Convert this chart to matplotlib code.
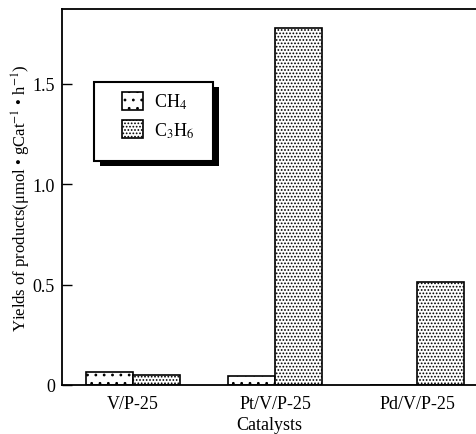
import numpy as np
import matplotlib
matplotlib.use('Agg')
from matplotlib import pyplot as plt
from matplotlib import patheffects as pe
from matplotlib.patches import Rectangle

catalysts = ['V/P-25', 'Pt/V/P-25', 'Pd/V/P-25']
ch4 = [0.063, 0.043, 0.0]
c3h6 = [0.05, 1.78, 0.515]

plt.rcParams['font.family'] = ['Liberation Serif', 'DejaVu Serif']
plt.rcParams['mathtext.fontset'] = 'stix'
plt.rcParams['hatch.linewidth'] = 0.8

fig = plt.figure(figsize=(4.77, 4.35), dpi=100)
ax = fig.add_axes([62/477, 1-386/435, 1-62/477, 376/435])

x = np.arange(len(catalysts))
w = 0.33
ax.bar(x - w/2, ch4, w, color='white', edgecolor='black', hatch='..', linewidth=1.2, label='CH$_4$')
ax.bar(x + w/2, c3h6, w, color='white', edgecolor='black', hatch='.....', linewidth=1.2, label='C$_3$H$_6$')

ax.set_xlim(-0.5, 2.42)
ax.set_ylim(0, 1.873)
ax.set_xticks(x)
ax.set_xticklabels(catalysts, fontsize=13)
ax.set_yticks([0, 0.5, 1.0, 1.5])
ax.set_yticklabels(['0', '0.5', '1.0', '1.5'], fontsize=13)
ax.tick_params(axis='y', direction='in', length=7, width=1, pad=5)
ax.tick_params(axis='x', length=0, pad=7)
ax.spines['right'].set_visible(False)
for s in ['left', 'top', 'bottom']:
    ax.spines[s].set_linewidth(1.3)

ax.set_xlabel('Catalysts', fontsize=13, labelpad=3)
ax.set_ylabel('Yields of products(μmol • gCat$^{-1}$ • h$^{-1}$)', fontsize=12, labelpad=0)

# legend box with a solid drop shadow
box = Rectangle((0.077, 0.596), 0.287, 0.21, transform=ax.transAxes, facecolor='white',
                edgecolor='black', linewidth=1.5, zorder=4)
box.set_path_effects([pe.SimplePatchShadow(offset=(4, -4), shadow_rgbFace='black', alpha=1), pe.Normal()])
ax.add_patch(box)

leg = ax.legend(loc='upper left', bbox_to_anchor=(0.145, 0.78), borderaxespad=0, frameon=False,
                fontsize=13, handlelength=1.15, handleheight=1.15, borderpad=0, labelspacing=0.5,
                handletextpad=0.6)
leg.set_zorder(5)

fig.savefig('out.png', dpi=100)
